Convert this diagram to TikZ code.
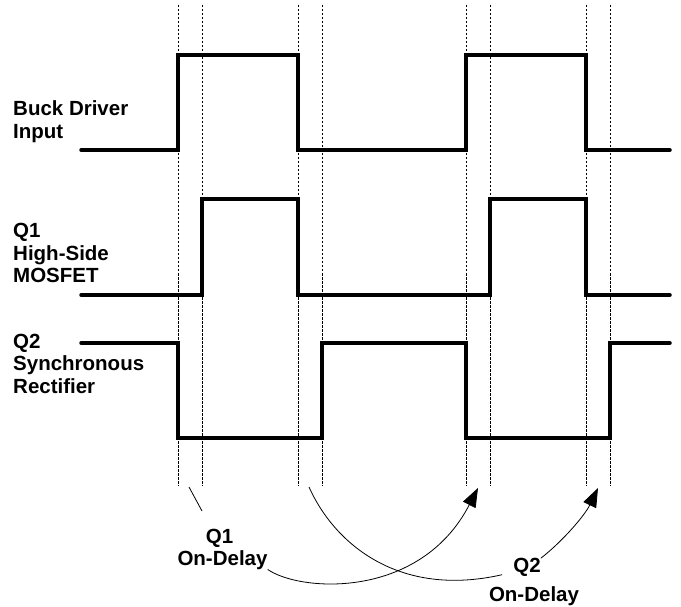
\documentclass[tikz,border=0pt]{standalone}
\usepackage{fontspec}
\setmainfont{Liberation Sans}
\usepackage{tikz}
\usetikzlibrary{arrows.meta}
\tikzstyle{signal} = [draw, line width=3.5pt, line cap=round]
\tikzstyle{guide} = [draw, line width=0.9pt, dash pattern=on 2.5pt off 1.5pt]

\begin{document}
\begin{tikzpicture}[x=1pt, y=-1pt, >={Triangle[length=19pt,width=14pt]},
	lbl/.style={font=\bfseries\fontsize{20.5}{22.5}\selectfont, inner sep=0pt, align=left, anchor=base west},
	dly/.style={font=\bfseries\fontsize{20.5}{22.5}\selectfont, inner sep=0pt, anchor=base},
	delayarc/.style={draw, line width=0.8pt}]
	\useasboundingbox (0,0) rectangle (681,607);
	% Hilfslinien
	\foreach \t in {178,202,298,322,466,490,586,610}
		\draw[guide] (\t,5) -- (\t,486);
	% Signale
	\draw[signal] (81,150) -| (178,55) -| (298,150) -| (466,55) -| (586,150) -- (670,150);
	\draw[signal] (81,295) -| (202,199) -| (298,295) -| (490,199) -| (586,295) -- (670,295);
	\draw[signal] (81,343) -| (178,438) -| (322,343) -| (466,438) -| (610,343) -- (670,343);
	% base = letzte Zeile
	\node[lbl] (buck) at (13,138.3) {Buck Driver\\Input};
	\node[lbl] (hs) at (13,282.7) {Q1\\High-Side\\MOSFET};
	\node[lbl] (sr) at (13,393.3) {Q2\\Synchronous\\Rectifier};
	\node[dly] (q1top) at (219.5,543.3) {Q1};
	\node[dly] (q1dly) at (222.5,565) {On-Delay};
	\node[dly] (q2top) at (527,572.7) {Q2};
	\node[dly] (q2dly) at (534,601.7) {On-Delay};
	\coordinate (ldrA) at (189,487);
	\coordinate (ldrB) at (202,511);
	\coordinate (fromB) at (309,487);
	\coordinate (tipA) at (478,488);
	\coordinate (tipB) at (598,488);
	\draw[delayarc] (ldrA) -- (ldrB);
	\draw[delayarc,->] (q1dly.south east) .. controls (300,592) and (420,600) .. (tipA);
	\draw[delayarc] (fromB) .. controls (335,545) and (400,598) .. ([xshift=-11pt,yshift=-2pt]q2top.base west);
	\draw[delayarc,->] (q2top.north east) .. controls (563,541) and (585,515) .. (tipB);
\end{tikzpicture}
\end{document}
